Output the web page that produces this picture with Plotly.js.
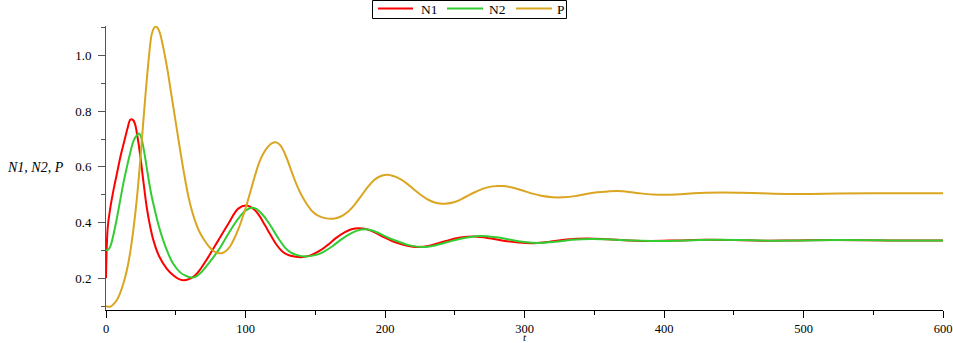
<!DOCTYPE html>
<html>
<head>
<meta charset="utf-8">
<script src="https://cdn.plot.ly/plotly-3.0.1.min.js"></script>
<style>html,body{margin:0;padding:0;background:#fff;}#chart{width:953px;height:343px;}</style>
</head>
<body>
<div id="chart"></div>
<script>
// Series names
const seriesNames = ["N1", "N2", "P"];

// N1(t)
const n1T = [0, 1.2, 3, 5.5, 8, 10.5, 13, 15.5, 17.5, 19.5, 21, 22.5, 24.4, 26.5, 29.2, 31.5, 34, 38, 43.5, 48, 52, 55.4, 59, 63.8, 68, 73.3, 80.5, 87.7, 94.8, 100.6, 106.8, 110, 114, 118, 122, 126, 130, 135, 141, 147, 153, 159, 165, 171, 176, 181, 187, 193, 199, 205, 212, 218, 224, 232, 243, 254, 264, 275, 285, 296, 307, 318, 330, 345, 360, 375, 390, 410, 430, 450, 470, 495, 520, 560, 600];
const n1V = [0.20, 0.38, 0.45, 0.52, 0.58, 0.64, 0.69, 0.74, 0.77, 0.768, 0.75, 0.71, 0.647, 0.56, 0.455, 0.39, 0.336, 0.28, 0.235, 0.212, 0.198, 0.193, 0.196, 0.21, 0.235, 0.276, 0.336, 0.396, 0.45, 0.461, 0.444, 0.424, 0.39, 0.355, 0.322, 0.298, 0.285, 0.278, 0.276, 0.283, 0.298, 0.32, 0.345, 0.365, 0.376, 0.38, 0.376, 0.364, 0.348, 0.334, 0.322, 0.315, 0.312, 0.317, 0.333, 0.346, 0.35, 0.344, 0.335, 0.328, 0.326, 0.331, 0.339, 0.343, 0.340, 0.336, 0.334, 0.336, 0.338, 0.337, 0.335, 0.336, 0.337, 0.336, 0.336];

// N2(t)
const n2T = [0, 2, 3.5, 5.5, 7.6, 10, 12.4, 15, 17.2, 19.5, 22, 23.7, 25, 26.8, 28.5, 30.3, 32.5, 35.1, 38, 41, 44.5, 48.2, 53, 56.6, 60, 63.8, 68, 73.3, 80.5, 87.7, 94.8, 100, 104.9, 108, 112, 116, 120, 124, 128, 132, 137, 143, 150, 156, 162, 168, 174, 180, 186, 192, 198, 204, 210, 217, 227, 236, 245, 255, 268, 280, 290, 300, 311, 322, 334, 348, 362, 377, 395, 415, 435, 455, 475, 500, 525, 560, 600];
const n2V = [0.30, 0.305, 0.32, 0.36, 0.41, 0.475, 0.54, 0.60, 0.647, 0.69, 0.713, 0.72, 0.71, 0.67, 0.62, 0.563, 0.50, 0.443, 0.385, 0.336, 0.29, 0.252, 0.222, 0.21, 0.204, 0.204, 0.22, 0.252, 0.30, 0.36, 0.414, 0.443, 0.453, 0.448, 0.43, 0.404, 0.372, 0.34, 0.312, 0.294, 0.283, 0.278, 0.283, 0.295, 0.314, 0.337, 0.357, 0.371, 0.376, 0.37, 0.356, 0.342, 0.331, 0.319, 0.312, 0.318, 0.33, 0.343, 0.352, 0.347, 0.338, 0.33, 0.327, 0.331, 0.338, 0.341, 0.339, 0.336, 0.334, 0.336, 0.338, 0.337, 0.335, 0.336, 0.337, 0.336, 0.336];

// P(t)
const pT = [0, 3, 5, 7.6, 10, 12.4, 15, 17.2, 19.5, 22, 24.5, 26.8, 28.5, 30.3, 32.7, 34.3, 35.8, 37.3, 38.7, 41, 44, 47, 50, 53, 56, 59, 62, 65, 68, 71, 74, 77, 80, 83, 86, 89, 92, 95, 98, 101, 104, 107, 110, 113, 116, 119, 122, 125, 128, 131, 134, 137, 140, 144, 148, 152, 157, 163, 168, 173, 178, 183, 188, 193, 198, 202, 206, 211, 216, 221, 226, 231, 237, 243, 250, 257, 264, 271, 277, 284, 291, 298, 305, 312, 320, 328, 336, 344, 352, 360, 367, 375, 383, 392, 402, 412, 421, 430, 442, 455, 470, 488, 505, 525, 550, 580, 600];
const pV = [0.10, 0.098, 0.105, 0.12, 0.145, 0.18, 0.23, 0.288, 0.37, 0.48, 0.62, 0.767, 0.87, 0.971, 1.075, 1.098, 1.104, 1.097, 1.08, 1.03, 0.95, 0.855, 0.76, 0.665, 0.575, 0.495, 0.435, 0.39, 0.357, 0.333, 0.313, 0.298, 0.291, 0.29, 0.298, 0.315, 0.343, 0.378, 0.42, 0.467, 0.52, 0.572, 0.618, 0.65, 0.672, 0.685, 0.688, 0.677, 0.65, 0.612, 0.57, 0.532, 0.5, 0.466, 0.44, 0.425, 0.416, 0.414, 0.421, 0.437, 0.463, 0.496, 0.53, 0.556, 0.569, 0.572, 0.567, 0.556, 0.539, 0.518, 0.498, 0.482, 0.47, 0.468, 0.474, 0.49, 0.508, 0.523, 0.53, 0.531, 0.526, 0.516, 0.505, 0.496, 0.491, 0.491, 0.495, 0.503, 0.509, 0.512, 0.513, 0.51, 0.505, 0.501, 0.5, 0.502, 0.505, 0.507, 0.508, 0.507, 0.505, 0.503, 0.503, 0.504, 0.505, 0.505, 0.505];

const xTickVals = [0, 100, 200, 300, 400, 500, 600];
const colors = ["#ff0000", "#33cc33", "#daa520"];

const serif = "'Liberation Serif', 'Times New Roman', Times, serif";
const tickSerif = "Liberation Serif";

// plot geometry (pixels) used to place the hand-built legend
const W = 953, H = 343, mL = 106, mR = 10, mT = 26, mB = 33;
const pw = W - mL - mR, ph = H - mT - mB;
const px2p = px => (px - mL) / pw;
const py2p = py => (H - mB - py) / ph;

const series = [[n1T, n1V], [n2T, n2V], [pT, pV]];
const traces = series.map((s, i) => ({
  x: s[0], y: s[1], name: seriesNames[i], type: "scatter", mode: "lines",
  line: {color: colors[i], width: 2, shape: "spline", smoothing: 1},
  showlegend: false
}));

// Legend built from names & colours
const legLines = [[378, 413], [447, 483], [516, 552]];
const legText = [419, 487, 555];
const legY = 9.5;
const shapes = [
  {type: "rect", xref: "paper", yref: "paper", x0: px2p(372.5), x1: px2p(566.5), y0: py2p(0.5), y1: py2p(18.5),
   line: {color: "#000", width: 1}, fillcolor: "#fff", layer: "above"}
];
const annotations = [];
seriesNames.forEach((nm, i) => {
  shapes.push({type: "line", xref: "paper", yref: "paper", x0: px2p(legLines[i][0]), x1: px2p(legLines[i][1]),
    y0: py2p(legY - 1), y1: py2p(legY - 1), line: {color: colors[i], width: 2}, layer: "above"});
  annotations.push({text: nm, xref: "paper", yref: "paper", x: px2p(legText[i]), y: py2p(legY),
    xanchor: "left", yanchor: "middle", showarrow: false,
    font: {family: serif, size: 13.5, color: "#000"}});
});
annotations.push(
  {text: "N1, N2, P", xref: "paper", yref: "paper", x: px2p(35), y: py2p(167),
   xanchor: "center", yanchor: "middle", showarrow: false,
   font: {family: serif, size: 14, color: "#000", style: "italic"}},
  {text: "t", xref: "x", yref: "paper", x: 300, y: py2p(343.5),
   xanchor: "center", yanchor: "bottom", showarrow: false, borderpad: 0,
   font: {family: serif, size: 11, color: "#000", style: "italic"}}
);

const layout = {
  width: W, height: H,
  margin: {l: mL, r: mR, t: mT, b: mB, pad: 0},
  paper_bgcolor: "#fff", plot_bgcolor: "#fff",
  font: {family: serif, size: 13, color: "#000"},
  showlegend: false,
  xaxis: {
    range: [0, 600], showgrid: false, zeroline: false,
    showline: true, linecolor: "#000", linewidth: 1,
    tickmode: "array", tickvals: xTickVals,
    ticks: "outside", ticklen: 7, tickcolor: "#000", tickwidth: 1,
    minor: {dtick: 50, tick0: 0, ticks: "outside", ticklen: 4, tickcolor: "#000", showgrid: false},
    tickfont: {family: tickSerif, size: 12.5, color: "#000"}
  },
  yaxis: {
    range: [0.086, 1.106], showgrid: false, zeroline: false,
    showline: true, linecolor: "#555", linewidth: 1,
    tick0: 0, dtick: 0.2, tickformat: ".1f",
    ticks: "outside", ticklen: 7, tickcolor: "#555", tickwidth: 1,
    minor: {dtick: 0.1, tick0: 0, ticks: "outside", ticklen: 4, tickcolor: "#555", showgrid: false},
    ticklabelstandoff: 4,
    tickfont: {family: tickSerif, size: 13, color: "#000"}
  },
  shapes: shapes,
  annotations: annotations
};

Plotly.newPlot("chart", traces, layout, {displayModeBar: false, staticPlot: true});
</script>
</body>
</html>
